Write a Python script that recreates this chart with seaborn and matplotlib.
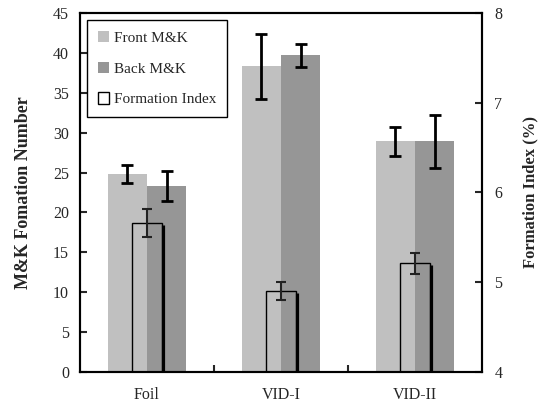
import numpy as np
import pandas as pd
import matplotlib
matplotlib.use("Agg")
import matplotlib.pyplot as plt
import seaborn as sns
from matplotlib.patches import Patch
from matplotlib.transforms import ScaledTranslation

categories = ["Foil", "VID-I", "VID-II"]
series_names = ["Front M&K", "Back M&K"]
front_mk = [24.8, 38.3, 28.9]
front_err = [1.1, 4.1, 1.85]
back_mk = [23.3, 39.7, 28.9]
back_err = [1.9, 1.45, 3.3]
formation_index = [5.66, 4.90, 5.21]
formation_err = [0.16, 0.10, 0.12]
fi_name = "Formation Index"

c_front = "#C0C0C0"
c_back = "#969696"

sns.set_style("ticks")
plt.rcParams["font.family"] = ["Liberation Serif", "DejaVu Serif"]
plt.rcParams["font.size"] = 11

fig = plt.figure(figsize=(5.42, 4.11), dpi=100)
ax = fig.add_axes([80 / 542, 1 - 372 / 411, 402 / 542, 359 / 411])

df = pd.DataFrame({
    "cat": categories * 2,
    "series": [series_names[0]] * len(categories) + [series_names[1]] * len(categories),
    "value": front_mk + back_mk,
})
sns.barplot(data=df, x="cat", y="value", hue="series", hue_order=series_names,
            palette=[c_front, c_back], width=0.585, errorbar=None, saturation=1,
            linewidth=0, ax=ax, legend=False)

patches = sorted(ax.patches, key=lambda p: p.get_x())
errs = [e for pair in zip(front_err, back_err) for e in pair]
xs = [p.get_x() + p.get_width() / 2 for p in patches]
hs = [p.get_height() for p in patches]
ax.errorbar(xs, hs, yerr=errs, fmt="none", ecolor="black", elinewidth=2,
            capsize=4, capthick=2, zorder=5)

ax2 = ax.twinx()
df2 = pd.DataFrame({"cat": categories, "fi": formation_index})
sns.barplot(data=df2, x="cat", y="fi", fill=False, width=0.217, errorbar=None,
            saturation=1, color="black", linewidth=1, ax=ax2)
fpatches = sorted(ax2.patches, key=lambda p: p.get_x())
for p in fpatches:
    p.set_facecolor("none")
    p.set_edgecolor("black")
    p.set_linewidth(1)
# right-side shadow strip
off = ScaledTranslation(1.6 / 100, -1.5 / 100, fig.dpi_scale_trans)
ax2.vlines([p.get_x() + p.get_width() for p in fpatches], 4,
           [p.get_height() for p in fpatches], colors="black", linewidth=2.3,
           transform=ax2.transData + off, zorder=3)
ax2.errorbar([p.get_x() + p.get_width() / 2 for p in fpatches],
             [p.get_height() for p in fpatches], yerr=formation_err, fmt="none",
             ecolor="#222222", elinewidth=1.5, capsize=3.5, capthick=1.5, zorder=5)

ax.set_ylim(0, 45)
ax2.set_ylim(4, 8)
ax.set_xlim(-0.5, 2.5)
ax.set_yticks(np.arange(0, 46, 5))
ax2.set_yticks([4, 5, 6, 7, 8])
ax.set_xticks([0.5, 1.5])
ax.set_xticklabels(["", ""])
ax.set_xticks([0, 1, 2], minor=True)
ax.set_xticklabels(categories, minor=True)
ax.tick_params(axis="x", which="major", direction="in", length=5, width=1.5)
ax.tick_params(axis="x", which="minor", length=0, pad=11, labelsize=11.5)
ax.tick_params(axis="y", direction="in", length=5, width=1.5, labelsize=11.5, pad=8)
ax2.tick_params(axis="y", direction="in", length=5, width=1.5, labelsize=11.5, pad=9)
ax.set_xlabel("")
ax2.set_xlabel("")

ax.set_ylabel("M&K Fomation Number", fontweight="bold", fontsize=13, labelpad=15)
ax2.set_ylabel("Formation Index (%)", fontweight="bold", fontsize=12, rotation=90, labelpad=14)

for a in (ax, ax2):
    for s in a.spines.values():
        s.set_visible(True)
        s.set_linewidth(1.5)
        s.set_color("black")

handles = [Patch(facecolor=c_front, edgecolor="none"),
           Patch(facecolor=c_back, edgecolor="none"),
           Patch(facecolor="white", edgecolor="black", linewidth=1)]
leg = ax2.legend(handles, series_names + [fi_name], loc="upper left",
                 bbox_to_anchor=(0.017, 0.98), borderaxespad=0, frameon=True,
                 fancybox=False, edgecolor="black", framealpha=1, fontsize=11,
                 handlelength=0.75, handleheight=0.75, handletextpad=0.3,
                 labelspacing=1.1, borderpad=0.7)
leg.get_frame().set_linewidth(1)

fig.savefig("out.png", dpi=100)
